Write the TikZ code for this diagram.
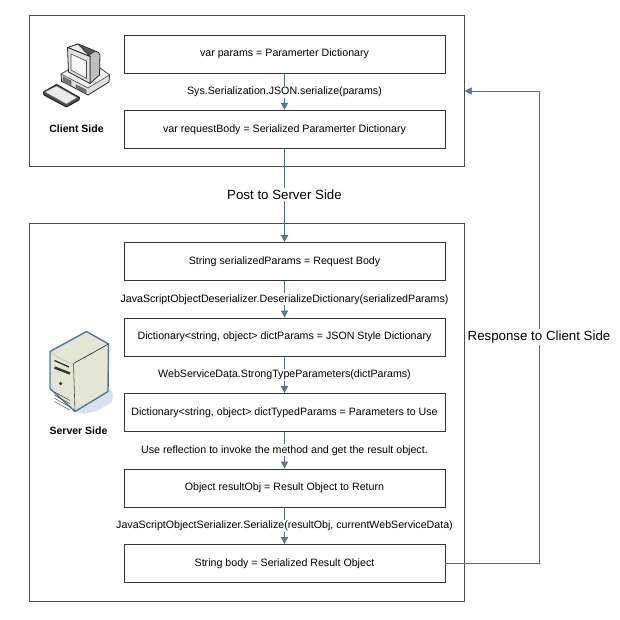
\documentclass[tikz,border=0pt]{standalone}
\usepackage{fontspec}
\setmainfont{Liberation Sans}
\usepackage{tikz}
\usetikzlibrary{arrows.meta}
\usetikzlibrary{positioning}

\definecolor{linkblue}{HTML}{4F81BD}
\definecolor{linkdark}{HTML}{4A6E96}
\definecolor{caseside}{HTML}{E4E6D4}
\definecolor{casefront}{HTML}{DFE2CF}
\definecolor{caseedge}{HTML}{4A76B0}

\begin{document}
\begin{tikzpicture}[x=1pt,y=-1pt,font=\fontsize{10.65}{12}\selectfont,
  link/.style={draw=linkdark,line width=.9pt,-{Stealth[length=7pt,width=7pt,fill=linkblue,inset=0pt]}},
  frame node/.style={draw=black!70,line width=1pt,minimum width=435pt,inner sep=0pt},
  step node/.style={draw=black!80,line width=.8pt,minimum width=321pt,minimum height=38pt,inner sep=0pt},
  link label/.style={fill=white,inner sep=1pt},
  side label/.style={fill=white,inner sep=2pt,font=\fontsize{13.3}{15}\selectfont},
  icon label/.style={font=\fontsize{10.5}{12}\selectfont\bfseries}]

  \useasboundingbox (0,0) rectangle (620,620);

  % outer frames
  \node[frame node,minimum height=151pt] (client) at (246.7,91) {};
  \node[frame node,minimum height=378pt] (server) at (246.7,412) {};

  % client side
  \node[step node] (params) at (284.5,54) {var params = Paramerter Dictionary};
  \node[step node] (request) [below=36.5pt of params] {var requestBody = Serialized Paramerter Dictionary};

  % server side
  \node[step node] (serialized) at (284.5,261.5) {String serializedParams = Request Body};
  \node[step node] (dict) [below=36.7pt of serialized] {Dictionary<string, object> dictParams = JSON Style Dictionary};
  \node[step node] (typed) [below=36.7pt of dict] {Dictionary<string, object> dictTypedParams = Parameters to Use};
  \node[step node] (result) [below=36.7pt of typed] {Object resultObj = Result Object to Return};
  \node[step node] (body) [below=36.7pt of result] {String body = Serialized Result Object};

  \node[icon label] (clientlabel) at (76.5,129) {Client Side};
  \node[icon label] (serverlabel) at (78.5,431) {Server Side};

  \coordinate (turn) at (539,337);

  % connectors
  \draw[link] (params) -- node[link label] (serializelabel) {Sys.Serialization.JSON.serialize(params)} (request);
  \draw[link] (request) -- node[side label,pos=.49] (postlabel) {Post to Server Side} (serialized);
  \draw[link] (serialized) -- node[link label] (deserializelabel) {JavaScriptObjectDeserializer.DeserializeDictionary(serializedParams)} (dict);
  \draw[link] (dict) -- node[link label] (stronglabel) {WebServiceData.StrongTypeParameters(dictParams)} (typed);
  \draw[link] (typed) -- node[link label] (reflectlabel) {Use reflection to invoke the method and get the result object.} (result);
  \draw[link] (result) -- node[link label] (jsonlabel) {JavaScriptObjectSerializer.Serialize(resultObj, currentWebServiceData)} (body);
  \draw[link] (body.east) -| (turn) |- (client.east);
  \node[side label] (responselabel) at (turn) {Response to Client Side};

  % client computer
  \begin{scope}[line join=round,draw=black!85,line width=.8pt]
    % keyboard
    \draw[fill=black!70,line width=1pt] (43.5,92) -- (56.5,84.5) -- (79.5,97.5) -- (79,100) -- (66.5,107) -- (44,95) -- cycle;
    \draw[fill=black!8,draw=black!50,line width=.4pt] (45,92) -- (56.5,86) -- (77,97.5) -- (66.5,104) -- cycle;
    % base
    \draw[fill=black!12] (61,74) -- (72,68) -- (100,68) -- (109.5,75) -- (109,82) -- (88,95) -- (61.5,81) -- cycle;
    \draw[fill=black!5,draw=black!60] (61,74) -- (88,88) -- (109.5,75) -- (100,68) -- (72,68) -- cycle;
    \draw[fill=black!55,draw=black!60] (63,77) -- (71,81) -- (71,86) -- (63,82) -- cycle;
    \draw[fill=black!55,draw=black!60] (76,85) -- (86,90) -- (86,93) -- (76,88) -- cycle;
    % monitor
    \draw[fill=black!25] (78,44) -- (98.5,52.5) -- (100,55) -- (99.5,75) -- (90,83.5) -- (90,56.5) -- cycle;
    \draw[fill=black!65,draw=black!75] (83,46) -- (95,51) -- (90,54.5) -- (79,49) -- cycle;
    \draw[fill=black!8] (67.5,47.5) -- (78,44) -- (90,56.5) -- (67.5,47.5);
    \draw[fill=black!12] (67.5,47.5) -- (90,56.5) -- (90,83.5) -- (68.5,72) -- cycle;
    \draw[fill=black!3,draw=black!70,line width=.6pt] (71,54) -- (86.5,61) -- (86.5,78.5) -- (71,70) -- cycle;
  \end{scope}

  % server tower
  \begin{scope}[line join=round]
    \fill[caseedge!22] (75,411.5) -- (109,388) -- (113,394) -- (112,402) -- (97,411) -- (84,414) -- cycle;
    \draw[draw=caseedge,line width=1.4pt,fill=caseside] (50,351.5) -- (86.5,331.5) -- (108.5,344) -- (108,391.5) -- (75,411.5) -- (50,388.5) -- cycle;
    \draw[black!85,line width=.6pt] (73.5,363.5) -- (108.5,344);
    \draw[black!70,line width=.6pt] (73.5,363.5) -- (75,411.5);
    \draw[casefront!80!black,line width=.4pt] (51,352.5) .. controls (58,358) and (66,362) .. (73.5,363.5);
    \draw[black!85,line width=1.2pt] (54.5,360.5) -- (69,367);
    \draw[black!80,line width=2.4pt] (54.5,367.5) -- (70,373.5);
    \fill[black!75] (60.7,383.5) circle (1.8pt);
    \foreach \rib in {0,1,2,3}
      \draw[black!70,line width=.5pt] (54.5,392+\rib*3.2) -- (70,400.5+\rib*3.2);
  \end{scope}
\end{tikzpicture}
\end{document}
